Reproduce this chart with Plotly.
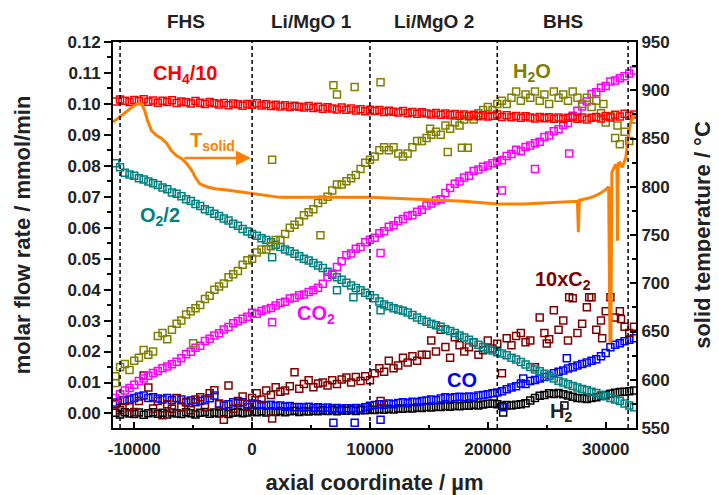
import plotly.graph_objects as go

# axial positions of the measurements (µm)
x_pos = [-11600, -11200, -10800, -10400, -10000, -9600, -9200, -8800, -8400, -8000,
         -7600, -7200, -6800, -6400, -6000, -5600, -5200, -4800, -4400, -4000,
         -3600, -3200, -2800, -2400, -2000, -1600, -1200, -800, -400, 0,
         400, 800, 1200, 1600, 2000, 2400, 2800, 3200, 3600, 4000,
         4400, 4800, 5200, 5600, 6000, 6400, 6800, 7200, 7600, 8000,
         8400, 8800, 9200, 9600, 10000, 10400, 10800, 11200, 11600, 12000,
         12400, 12800, 13200, 13600, 14000, 14400, 14800, 15200, 15600, 16000,
         16400, 16800, 17200, 17600, 18000, 18400, 18800, 19200, 19600, 20000,
         20400, 20800, 21200, 21600, 22000, 22400, 22800, 23200, 23600, 24000,
         24400, 24800, 25200, 25600, 26000, 26400, 26800, 27200, 27600, 28000,
         28400, 28800, 29200, 29600, 30000, 30400, 30800, 31200, 31600, 32000,
         32400]

ch4_10 = [0.1008, 0.1014, 0.1010, 0.1006, 0.1013, 0.1009, 0.1015, 0.1007, 0.1011, 0.1004,
          0.1010, 0.1006, 0.1012, 0.1003, 0.1008, 0.1005, 0.1001, 0.1009, 0.1004, 0.1000,
          0.1006, 0.1002, 0.0998, 0.1003, 0.0996, 0.1001, 0.0999, 0.0994, 0.1000, 0.0997,
          0.1002, 0.0995, 0.0999, 0.0993, 0.0997, 0.0992, 0.0996, 0.0990, 0.0994, 0.0991,
          0.0988, 0.0993, 0.0987, 0.0991, 0.0984, 0.0989, 0.0985, 0.0982, 0.0988, 0.0981,
          0.0985, 0.0979, 0.0983, 0.0976, 0.0981, 0.0977, 0.0980, 0.0974, 0.0978, 0.0975,
          0.0972, 0.0977, 0.0970, 0.0974, 0.0968, 0.0973, 0.0969, 0.0966, 0.0971, 0.0965,
          0.0969, 0.0964, 0.0967, 0.0962, 0.0966, 0.0961, 0.0965, 0.0960, 0.0963, 0.0959,
          0.0962, 0.0966, 0.0958, 0.0963, 0.0957, 0.0961, 0.0955, 0.0960, 0.0956, 0.0953,
          0.0958, 0.0954, 0.0957, 0.0952, 0.0956, 0.0951, 0.0955, 0.0958, 0.0952, 0.0956,
          0.0950, 0.0955, 0.0958, 0.0953, 0.0961, 0.0956, 0.0965, 0.0959, 0.0968, 0.0962,
          0.0966]

h2o = [0.012, 0.015, 0.016, 0.014, 0.017, 0.018, 0.0205, 0.019, 0.020, 0.025,
       0.026, 0.024, 0.027, 0.029, 0.030, 0.032, 0.033, 0.034, 0.035, 0.037,
       0.038, 0.040, 0.041, 0.042, 0.044, 0.045, 0.046, 0.048, 0.0495, 0.050,
       0.052, 0.053, 0.053, 0.054, 0.056, 0.056, 0.058, 0.060, 0.061, 0.062,
       0.064, 0.065, 0.066, 0.068, 0.069, 0.070, 0.072, 0.074, 0.074, 0.075,
       0.076, 0.077, 0.079, 0.081, 0.082, 0.083, 0.085, 0.086, 0.085, 0.086,
       0.084, 0.083, 0.084, 0.086, 0.088, 0.088, 0.089, 0.090, 0.091, 0.090,
       0.093, 0.092, 0.094, 0.093, 0.095, 0.096, 0.095, 0.097, 0.098, 0.099,
       0.098, 0.100, 0.101, 0.100, 0.102, 0.104, 0.101, 0.103, 0.102, 0.104,
       0.101, 0.103, 0.100, 0.104, 0.102, 0.103, 0.101, 0.104, 0.102, 0.100,
       0.102, 0.099, 0.101, 0.097, 0.094, 0.096, 0.089, 0.087, 0.091, 0.088,
       0.095]
h2o_out_x = [-11600, -5000, 1700, 5800, 6900, 7200, 8700, 10900, 15100, 16600, 17800, 18300, 29800, 31000]
h2o_out_y = [0.0098, 0.0227, 0.082, 0.0576, 0.106, 0.103, 0.1055, 0.107, 0.092, 0.0845, 0.0858, 0.0858, 0.100, 0.093]

co2 = [0.005, 0.0062, 0.0074, 0.0082, 0.0093, 0.0105, 0.0113, 0.0122, 0.0131, 0.0137,
       0.0146, 0.0152, 0.0159, 0.0167, 0.0178, 0.0191, 0.0199, 0.0212, 0.0219, 0.0234,
       0.0241, 0.0252, 0.0259, 0.0271, 0.0279, 0.0291, 0.0298, 0.0306, 0.0312, 0.0325,
       0.0322, 0.0331, 0.0336, 0.0341, 0.0349, 0.0357, 0.0361, 0.0371, 0.0374, 0.0382,
       0.0384, 0.0392, 0.0398, 0.0406, 0.0419, 0.0441, 0.0452, 0.0473, 0.0492, 0.0511,
       0.0517, 0.0532, 0.0538, 0.0553, 0.0561, 0.0568, 0.0582, 0.0589, 0.0603, 0.0608,
       0.0622, 0.0628, 0.0638, 0.0641, 0.0652, 0.0658, 0.0672, 0.0678, 0.0688, 0.0692,
       0.0712, 0.0728, 0.0742, 0.0749, 0.0762, 0.0768, 0.0783, 0.0788, 0.0797, 0.0801,
       0.0808, 0.0814, 0.0818, 0.0832, 0.0838, 0.0852, 0.0847, 0.0861, 0.0866, 0.0873,
       0.0878, 0.0893, 0.0898, 0.0912, 0.0918, 0.0932, 0.0938, 0.0962, 0.0978, 0.0992,
       0.1008, 0.1032, 0.1038, 0.1052, 0.1058, 0.1072, 0.1076, 0.1083, 0.1089, 0.1098,
       0.1108]
co2_out_x = [1700, 10900, 21200, 24000, 26900]
co2_out_y = [0.0295, 0.0518, 0.072, 0.079, 0.084]

o2_2 = [0.0808, 0.0795, 0.0778, 0.0772, 0.0768, 0.0760, 0.0756, 0.0749, 0.0744, 0.0738,
        0.0730, 0.0724, 0.0714, 0.0710, 0.0702, 0.0692, 0.0686, 0.0677, 0.0670, 0.0660,
        0.0654, 0.0645, 0.0638, 0.0630, 0.0623, 0.0613, 0.0606, 0.0596, 0.0588, 0.0580,
        0.0574, 0.0566, 0.0560, 0.0553, 0.0545, 0.0538, 0.0530, 0.0524, 0.0516, 0.0508,
        0.0500, 0.0494, 0.0486, 0.0478, 0.0470, 0.0458, 0.0448, 0.0440, 0.0432, 0.0422,
        0.0413, 0.0405, 0.0398, 0.0390, 0.0382, 0.0372, 0.0362, 0.0352, 0.0346, 0.0340,
        0.0336, 0.0332, 0.0326, 0.0318, 0.0310, 0.0302, 0.0296, 0.0290, 0.0285, 0.0280,
        0.0272, 0.0266, 0.0260, 0.0252, 0.0245, 0.0238, 0.0230, 0.0222, 0.0215, 0.0208,
        0.0203, 0.0198, 0.0194, 0.0188, 0.0180, 0.0174, 0.0166, 0.0158, 0.0150, 0.0142,
        0.0136, 0.0128, 0.0120, 0.0113, 0.0106, 0.0100, 0.0094, 0.0089, 0.0084, 0.0079,
        0.0075, 0.0070, 0.0066, 0.0060, 0.0056, 0.0050, 0.0045, 0.0040, 0.0032, 0.0026,
        0.0020]
o2_out_x = [1700, 7200, 8600, 10900]
o2_out_y = [0.0505, 0.0398, 0.0375, 0.0333]

c2_x10 = [0.003, 0.001, 0.004, 0.002, 0.0005, 0.004, 0.0123, 0.0084, 0.0016, 0.004,
          -0.0006, 0.003, 0.0015, 0.005, 0.002, 0.0035, 0.001, 0.0045, 0.0052, 0.002,
          0.0065, 0.0075, 0.003, -0.002, 0.009, 0.0015, 0.004, 0.0055, 0.002, 0.005,
          0.0065, 0.0045, 0.0074, 0.006, 0.0085, 0.007, 0.0074, 0.0088, 0.0133, 0.008,
          0.0095, 0.0107, 0.0085, 0.0097, 0.010, 0.009, 0.0107, 0.0095, 0.011, 0.0116,
          0.010, 0.0118, 0.0105, 0.012, 0.0107, 0.013, 0.0146, 0.0135, 0.017, 0.0146,
          0.0155, 0.018, 0.0165, 0.0185, 0.017, 0.019, 0.019, 0.0236, 0.020, 0.027,
          0.0215, 0.018, 0.0246, 0.022, 0.020, 0.0214, 0.023, 0.019, 0.0204, 0.0236,
          0.021, 0.0225, 0.013, 0.0243, 0.022, 0.025, 0.026, 0.023, 0.0236, 0.0149,
          0.031, 0.026, 0.024, 0.0333, 0.027, 0.030, 0.0236, 0.0372, 0.026, 0.029,
          0.0343, 0.0375, 0.027, 0.030, 0.033, 0.0375, 0.031, 0.033, 0.028, 0.026,
          0.028]
c2_out_x = [1700, 10900, 25000, 26900, 28600, 29700, 31300]
c2_out_y = [-0.0016, 0.004, 0.0226, 0.0375, 0.0375, 0.0243, 0.0305]

co = [0.0035, 0.004, 0.0042, 0.0045, 0.005, 0.0055, 0.0058, 0.005, 0.0052, 0.0048,
      0.0045, 0.005, 0.0043, 0.0049, 0.0045, 0.0038, 0.0042, 0.0036, 0.004, 0.0045,
      0.0049, 0.0058, 0.0032, 0.0026, 0.003, 0.0036, 0.0033, 0.0036, 0.003, 0.0032,
      0.003, 0.0027, 0.0026, 0.0028, 0.0024, 0.0026, 0.0022, 0.0024, 0.002, 0.0021,
      0.0019, 0.0022, 0.0018, 0.002, 0.0017, 0.0019, 0.0016, 0.0018, 0.0015, 0.0017,
      0.0016, 0.0018, 0.0016, 0.002, 0.0025, 0.0027, 0.003, 0.0028, 0.0032, 0.003,
      0.0034, 0.0036, 0.0033, 0.0038, 0.0036, 0.004, 0.0042, 0.0045, 0.0043, 0.0048,
      0.0052, 0.0049, 0.0052, 0.0054, 0.0052, 0.0055, 0.0053, 0.0058, 0.006, 0.0062,
      0.0065, 0.0068, 0.0072, 0.0078, 0.0084, 0.0088, 0.0097, 0.0095, 0.0105, 0.0108,
      0.0113, 0.0118, 0.0122, 0.013, 0.0135, 0.0139, 0.0145, 0.0149, 0.0155, 0.016,
      0.0165, 0.017, 0.0175, 0.0185, 0.0195, 0.0214, 0.0222, 0.0227, 0.0233, 0.0238,
      0.0243]
co_out_x = [6900, 8700, 10900, 21300, 23000, 26700]
co_out_y = [-0.003, -0.003, -0.002, 0.002, 0.0113, 0.0178]

h2 = [0.0002, -0.0003, 0.0004, 0.0, -0.0002, 0.0003, -0.0004, 0.0001, 0.0004, -0.0001,
      0.0002, -0.0003, 0.0003, 0.0, -0.0002, 0.0004, 0.0001, -0.0003, 0.0002, 0.0005,
      -0.0001, 0.0003, 0.0, 0.0004, -0.0002, 0.0002, 0.0005, 0.0001, 0.0003, 0.0006,
      0.0004, 0.0007, 0.0003, 0.0006, 0.0005, 0.0008, 0.0004, 0.0007, 0.0009, 0.0005,
      0.0008, 0.0006, 0.0009, 0.0007, 0.001, 0.0008, 0.0011, 0.0007, 0.001, 0.0009,
      0.0012, 0.0008, 0.0011, 0.001, 0.0012, 0.0011, 0.0014, 0.0012, 0.0015, 0.0013,
      0.0016, 0.0015, 0.0018, 0.0016, 0.0019, 0.0018, 0.0021, 0.0019, 0.0022, 0.0021,
      0.0024, 0.0022, 0.0025, 0.0023, 0.0026, 0.0025, 0.0028, 0.0026, 0.0029, 0.0031,
      0.0032, 0.003, 0.0025, 0.0027, 0.0026, 0.0028, 0.003, 0.0033, 0.0042, 0.005,
      0.0057, 0.006, 0.0065, 0.0063, 0.0066, 0.0062, 0.0058, 0.0054, 0.005, 0.0049,
      0.0047, 0.005, 0.0052, 0.0056, 0.006, 0.0064, 0.0067, 0.0069, 0.007, 0.0072,
      0.0074]
h2_out_x = [21300, 26500]
h2_out_y = [0.0003, 0.0026]

# solid temperature (°C) along the axial coordinate
t_x = [-11800, -11230, -10640, -10130, -9700, -9370, -9110, -8860, -8520, -8090,
       -7670, -7250, -6820, -6400, -5970, -5550, -5120, -4780, -4440, -3850,
       -3170, -2320, -1040, 60, 1080, 2350, 4000, 6000, 8000, 10000,
       12000, 14000, 16000, 18000, 20000, 21000, 23000, 25000, 27000, 27600,
       27680, 27760, 28500, 29000, 29500, 30000, 30250, 30360, 30440, 30520,
       30600, 30800, 30950, 31000, 31060, 31200, 31400, 31700, 31900, 32100,
       32300, 32500]
t_solid = [867, 872, 878, 883, 886, 886, 879, 868, 858, 853,
           850, 845, 837, 832, 829, 824, 817, 809, 803, 800,
           798, 797, 795, 793, 791, 789, 789, 789, 789, 789,
           788, 787, 786, 785, 783, 782, 782, 783, 784, 785,
           753, 786, 788, 790, 793, 797, 800, 640, 640, 815,
           817, 822, 822, 744, 824, 825, 820, 830, 851, 866,
           872, 876]

zone_bounds = [-11200, 0, 10000, 20800, 31900]
zone_names = ["FHS", "Li/MgO 1", "Li/MgO 2", "BHS"]
x_tickvals = [-10000, 0, 10000, 20000, 30000]
x_ticktext = ["-10000", "0", "10000", "20000", "30000"]

FONT = "Liberation Sans, Arial, sans-serif"
ORANGE = "#FF8000"

fig = go.Figure()

series = [
    (h2, h2_out_x, h2_out_y, "#000000"),
    (co, co_out_x, co_out_y, "#0000FF"),
    (c2_x10, c2_out_x, c2_out_y, "#800000"),
    (o2_2, o2_out_x, o2_out_y, "#008080"),
    (co2, co2_out_x, co2_out_y, "#FF00FF"),
    (h2o, h2o_out_x, h2o_out_y, "#808000"),
    (ch4_10, [], [], "#FF0000"),
]
for vals, ox, oy, col in series:
    fig.add_trace(go.Scatter(
        x=x_pos + ox, y=vals + oy, mode="markers",
        marker=dict(symbol="square-open", size=7, color=col,
                    line=dict(color=col, width=1.5)),
        showlegend=False, hoverinfo="skip"))

fig.add_trace(go.Scatter(
    x=t_x, y=t_solid, yaxis="y2", mode="lines",
    line=dict(color=ORANGE, width=3), showlegend=False, hoverinfo="skip"))

shapes = []
for xb in zone_bounds:
    shapes.append(dict(type="line", xref="x", yref="paper", x0=xb, x1=xb, y0=0, y1=1,
                       line=dict(color="black", width=1.5, dash="4px,3px")))

annotations = []
zone_centers = [(zone_bounds[i] + zone_bounds[i + 1]) / 2 for i in range(4)]
for name, xc in zip(zone_names, zone_centers):
    annotations.append(dict(x=xc, y=1.052, xref="x", yref="paper", text=name,
                            showarrow=False, xanchor="center", yanchor="middle",
                            font=dict(family=FONT, size=19, color="#222", weight="bold")))

labels = [
    ("CH<sub>4</sub>/10", -5630, 0.1094, "#FF0000"),
    ("H<sub>2</sub>O", 23730, 0.1100, "#808000"),
    ("T<sub>solid</sub>", -3340, 0.0880, ORANGE),
    ("O<sub>2</sub>/2", -7840, 0.0635, "#008080"),
    ("CO<sub>2</sub>", 5410, 0.0321, "#FF00FF"),
    ("10xC<sub>2</sub>", 26390, 0.0428, "#800000"),
    ("CO", 17810, 0.0108, "#0000FF"),
    ("H<sub>2</sub>", 26220, 0.0004, "#222222"),
]
for txt, lx, ly, col in labels:
    annotations.append(dict(x=lx, y=ly, xref="x", yref="y", text=txt, showarrow=False,
                            xanchor="center", yanchor="middle",
                            font=dict(family=FONT, size=20, color=col, weight="bold")))

annotations.append(dict(x=-100, y=0.0825, xref="x", yref="y", ax=-6000, ay=0.0825,
                        axref="x", ayref="y", text=" ", showarrow=True, arrowhead=2,
                        arrowsize=1.2, arrowwidth=2.5, arrowcolor=ORANGE))

tickfont = dict(family=FONT, size=17, color="#222", weight="bold")
titlefont = dict(family=FONT, size=22, color="#222", weight="bold")

# the page body adds an 8 px offset, so the figure is 8 px smaller and shifted margins
fig.update_layout(
    width=711, height=487, autosize=False,
    margin=dict(l=105, r=83, t=34, b=67),
    paper_bgcolor="white", plot_bgcolor="white",
    font=dict(family=FONT),
    shapes=shapes, annotations=annotations, showlegend=False,
    xaxis=dict(range=[-11800, 32570], tickvals=x_tickvals, ticktext=x_ticktext,
               ticks="inside", ticklen=6, tickwidth=2, tickcolor="black",
               minor=dict(dtick=5000, tick0=0, ticks="inside", ticklen=3, tickwidth=2,
                          tickcolor="black", showgrid=False),
               showline=True, linewidth=2, linecolor="black", mirror=True,
               showgrid=False, zeroline=False, tickfont=tickfont, automargin=False,
               ticklabelstandoff=5,
               title=dict(text="axial coordinate / µm", font=titlefont, standoff=20)),
    yaxis=dict(range=[-0.0047, 0.12], dtick=0.01, tick0=0, tickformat=".2f",
               ticks="outside", ticklen=7, tickwidth=2, tickcolor="black",
               minor=dict(dtick=0.005, tick0=0, ticks="outside", ticklen=4, tickwidth=1.5,
                          tickcolor="black", showgrid=False),
               showline=True, linewidth=2, linecolor="black",
               showgrid=False, zeroline=False, tickfont=tickfont, automargin=False,
               title=dict(text="molar flow rate / mmol/min", font=titlefont, standoff=31)),
    yaxis2=dict(range=[550, 950], dtick=50, tick0=550, overlaying="y", side="right",
                ticks="inside", ticklen=6, tickwidth=2, tickcolor="black",
                minor=dict(dtick=25, tick0=550, ticks="inside", ticklen=4, tickwidth=1.5,
                           tickcolor="black", showgrid=False),
                showline=True, linewidth=2, linecolor="black",
                showgrid=False, zeroline=False, tickfont=tickfont, automargin=False,
                title=dict(text="solid temperature / °C", font=titlefont, standoff=26)),
)

fig.write_html("out.html")
